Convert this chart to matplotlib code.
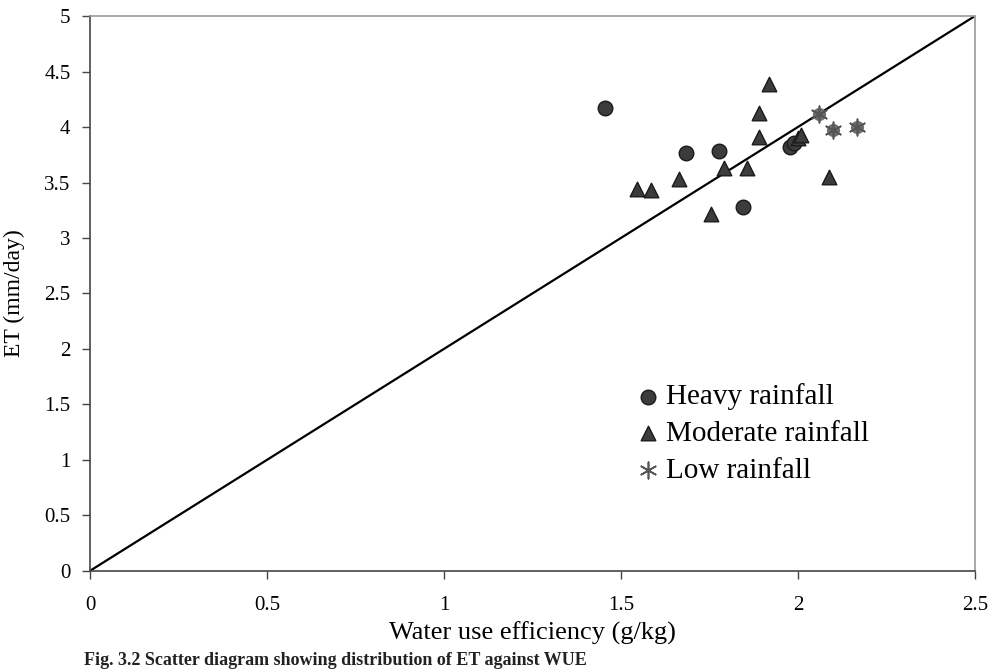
import numpy as np
import matplotlib.pyplot as plt

plt.rcParams["font.family"] = ["Liberation Serif", "DejaVu Serif"]

# data
heavy_x = [1.455, 1.684, 1.777, 1.845, 1.977, 1.99]
heavy_y = [4.17, 3.77, 3.78, 3.28, 3.82, 3.86]

moderate_x = [1.918, 1.89, 1.89, 1.79, 1.855, 1.664, 1.545, 1.585, 1.754, 2.088, 2.0, 2.01]
moderate_y = [4.39, 4.13, 3.91, 3.63, 3.63, 3.53, 3.44, 3.43, 3.22, 3.55, 3.90, 3.93]

low_x = [2.06, 2.10, 2.167]
low_y = [4.12, 3.97, 4.00]

line_x = [0, 2.5]
line_y = [0, 5]

fig = plt.figure(figsize=(9.92, 6.7), dpi=100)
ax = fig.add_axes([0.0907, 0.148, 0.892, 0.828])

ax.plot(line_x, line_y, color="black", lw=1.6, zorder=2)

ax.scatter(heavy_x, heavy_y, s=110, marker="o", color="#3c3c3c",
           edgecolor="#1a1a1a", lw=1, zorder=3, label="Heavy rainfall")
ax.scatter(moderate_x, moderate_y, s=110, marker="^", color="#3c3c3c",
           edgecolor="#1a1a1a", lw=1, zorder=3, label="Moderate rainfall")
# low rainfall: grey blob with an asterisk on top
ax.scatter(low_x, low_y, s=90, marker="o", color="#6e6e6e", lw=0, zorder=3)
ax.scatter(low_x, low_y, s=140, marker=(6, 2, 0), color="#555555",
           lw=1.2, zorder=4, label="Low rainfall")

ax.set_xlim(0, 2.5)
ax.set_ylim(0, 5)
ax.set_xticks(np.arange(0, 2.51, 0.5))
ax.set_xticklabels(["0", "0.5", "1", "1.5", "2", "2.5"])
ax.set_yticks(np.arange(0, 5.01, 0.5))
ax.set_yticklabels(["0", "0.5", "1", "1.5", "2", "2.5", "3", "3.5", "4", "4.5", "5"])
ax.tick_params(axis="both", direction="out", length=6, width=1,
               labelsize=15, color="#444444", pad=8)
ax.tick_params(axis="x", pad=12)

for side in ["top", "right"]:
    ax.spines[side].set_color("#999999")
for side in ["left", "bottom"]:
    ax.spines[side].set_color("#444444")
for sp in ax.spines.values():
    sp.set_linewidth(1.2)

ax.set_xlabel("Water use efficiency (g/kg)", fontsize=19, labelpad=5)
ax.set_ylabel("ET (mm/day)", fontsize=17, labelpad=14)

leg = ax.legend(loc="lower right", bbox_to_anchor=(0.91, 0.11), frameon=False,
                fontsize=21, handletextpad=0.1, labelspacing=0.35,
                handlelength=1.0, markerscale=1.0)

fig.text(0.085, 0.002, "Fig. 3.2 Scatter diagram showing distribution of ET against WUE",
         fontsize=13, fontweight="bold", color="#222222", va="bottom")

fig.savefig("out.png", dpi=100)
